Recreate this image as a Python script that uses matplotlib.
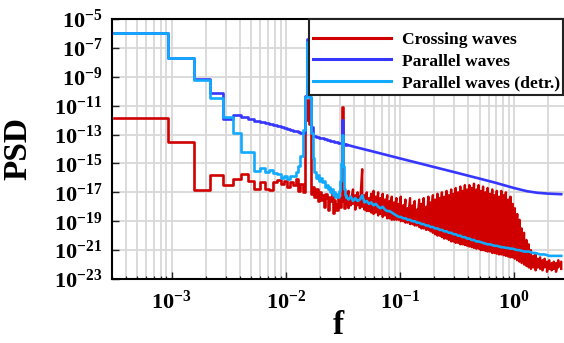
import numpy as np
import matplotlib
matplotlib.use("Agg")
import matplotlib.pyplot as plt
from matplotlib.ticker import LogLocator, NullFormatter

plt.rcParams["font.family"] = ["Liberation Serif", "DejaVu Serif"]
plt.rcParams["font.weight"] = "bold"
plt.rcParams["mathtext.fontset"] = "custom"
plt.rcParams["mathtext.rm"] = "Liberation Serif:bold"
plt.rcParams["mathtext.it"] = "Liberation Serif:bold"
plt.rcParams["mathtext.bf"] = "Liberation Serif:bold"

# Spectra, values stored as log10(PSD)
# low-frequency FFT bins (resolution df), drawn as histogram steps
df = 1.0 / 1600
bin_edges = np.arange(0.5, 55.5) * df

red_low = [-11.88, -13.5, -16.84, -15.82, -16.5, -16.08, -15.73, -16.2, -16.8, -16.27,
           -16.8, -16.85, -16.27, -16.15, -16.4, -16.2, -16.6, -16.3, -16.5, -16.05,
           -16.9, -16.4, -17.0, -12.0, -10.6, -12.3, -17.1, -16.6, -17.3, -16.8,
           -17.6, -17.0, -17.5, -17.2, -18.0, -17.1, -17.4, -18.2, -17.3, -17.6,
           -16.9, -18.4, -17.5, -17.8, -18.2, -17.3, -17.9, -18.0, -17.4, -11.1,
           -17.6, -18.1, -17.0, -17.8]

blue_low = [-6.0, -7.72, -9.18, -10.15, -11.93, -11.65, -11.79, -11.92, -12.03, -12.13,
            -12.22, -12.30, -12.37, -12.44, -12.51, -12.57, -12.62, -12.68, -12.73, -12.77,
            -12.82, -12.86, -12.90, -10.3, -6.4, -10.4, -12.5, -13.09, -13.12, -13.15,
            -13.18, -13.21, -13.24, -13.27, -13.30, -13.32, -13.35, -13.37, -13.40, -13.42,
            -13.44, -13.47, -13.49, -13.51, -13.53, -13.55, -13.57, -13.59, -13.61, -12.0,
            -13.65, -13.67, -13.68, -13.70]

cyan_low = [-6.0, -7.72, -9.22, -10.49, -11.8, -12.87, -14.2, -14.2, -15.5, -15.34,
            -15.57, -15.45, -15.67, -15.7, -16.03, -15.9, -16.1, -15.9, -15.9, -15.6,
            -15.2, -14.5, -12.7, -10.4, -6.6, -10.4, -12.9, -14.6, -15.6, -16.0,
            -15.8, -16.2, -16.0, -16.3, -16.2, -16.6, -16.5, -16.8, -16.6, -17.0,
            -16.8, -17.2, -17.0, -17.3, -17.1, -17.3, -16.9, -16.2, -15.0, -13.0,
            -15.2, -16.8, -17.2, -17.3]

# high-frequency part
hf_f = [0.0339, 0.0355, 0.0372, 0.0389, 0.0407, 0.0427, 0.0447, 0.0468, 0.0490, 0.0513,
        0.0537, 0.0562, 0.0589, 0.0617, 0.0646, 0.0676, 0.0708, 0.0741, 0.0776, 0.0813,
        0.0851, 0.0891, 0.0933, 0.0977, 0.102, 0.107, 0.112, 0.117, 0.123, 0.129,
        0.135, 0.141, 0.148, 0.155, 0.162, 0.170, 0.178, 0.186, 0.195, 0.204,
        0.214, 0.224, 0.234, 0.245, 0.257, 0.269, 0.282, 0.295, 0.309, 0.324,
        0.339, 0.355, 0.372, 0.389, 0.407, 0.427, 0.447, 0.468, 0.490, 0.513,
        0.537, 0.562, 0.589, 0.617, 0.646, 0.676, 0.708, 0.741, 0.776, 0.813,
        0.851, 0.891, 0.933, 0.977, 1.02, 1.07, 1.12, 1.17, 1.23, 1.29,
        1.35, 1.41, 1.48, 1.55, 1.62, 1.70, 1.78, 1.86, 1.95, 2.04,
        2.14, 2.24, 2.34, 2.45, 2.60]

# crossing waves: upper and lower excursions of the noisy spectrum
red_hi = [-17.0, -16.9, -17.3, -16.8, -17.2, -17.0, -17.3, -15.4, -17.2, -17.0,
          -17.4, -17.1, -16.9, -17.3, -17.0, -17.4, -17.1, -17.5, -17.2, -17.6,
          -17.3, -17.7, -17.4, -17.8, -17.3, -17.9, -17.5, -18.1, -17.4, -17.9,
          -17.6, -18.2, -17.5, -17.8, -17.4, -18.0, -17.3, -17.7, -17.2, -17.5,
          -17.1, -17.4, -17.0, -17.3, -16.9, -17.2, -16.8, -17.1, -16.7, -17.0,
          -16.6, -16.9, -16.5, -16.8, -16.5, -16.7, -16.4, -16.8, -16.5, -16.9,
          -16.6, -17.0, -16.7, -17.1, -16.8, -17.2, -16.9, -17.3, -16.9, -17.2,
          -17.0, -17.5, -17.3, -17.8, -18.1, -18.5, -18.9, -19.5, -19.8, -20.3,
          -20.6, -21.0, -21.4, -21.3, -21.6, -21.5, -21.7, -21.6, -21.8, -21.7,
          -21.9, -21.8, -21.9, -21.7, -21.8]
red_lo = [-17.9, -18.1, -17.9, -17.8, -18.2, -17.9, -18.1, -18.0, -18.2, -18.3,
          -18.3, -18.4, -18.5, -18.4, -18.6, -18.5, -18.7, -18.6, -18.8, -18.8,
          -18.9, -18.9, -18.9, -18.9, -19.0, -19.0, -19.1, -19.1, -19.2, -19.2,
          -19.3, -19.3, -19.4, -19.5, -19.5, -19.6, -19.6, -19.7, -19.8, -19.9,
          -20.0, -20.0, -20.1, -20.2, -20.2, -20.3, -20.4, -20.4, -20.5, -20.5,
          -20.6, -20.6, -20.65, -20.7, -20.75, -20.8, -20.85, -20.9, -20.9, -21.0,
          -21.0, -21.05, -21.1, -21.1, -21.2, -21.2, -21.25, -21.3, -21.3, -21.35,
          -21.4, -21.45, -21.5, -21.5, -21.6, -21.7, -21.8, -21.9, -22.0, -22.1,
          -22.2, -22.3, -22.2, -22.4, -22.2, -22.3, -22.4, -22.2, -22.5, -22.3,
          -22.4, -22.3, -22.5, -22.2, -22.3]

cyan_hf = [-17.3, -17.5, -17.3, -17.6, -17.4, -17.6, -17.5, -17.2, -17.7, -17.6,
           -17.8, -17.7, -17.9, -17.8, -18.0, -18.1, -18.0, -18.2, -18.3, -18.3,
           -18.4, -18.5, -18.6, -18.7, -18.7, -18.8, -18.8, -18.9, -18.9, -19.0,
           -19.0, -19.1, -19.1, -19.2, -19.2, -19.3, -19.3, -19.4, -19.4, -19.5,
           -19.5, -19.6, -19.6, -19.7, -19.7, -19.8, -19.8, -19.9, -19.9, -20.0,
           -20.0, -20.1, -20.1, -20.2, -20.2, -20.3, -20.3, -20.4, -20.4, -20.45,
           -20.5, -20.55, -20.6, -20.6, -20.65, -20.7, -20.7, -20.75, -20.8, -20.8,
           -20.85, -20.85, -20.9, -20.9, -20.95, -21.0, -21.0, -21.05, -21.1, -21.1,
           -21.1, -21.15, -21.2, -21.2, -21.25, -21.3, -21.3, -21.3, -21.35, -21.4,
           -21.4, -21.4, -21.4, -21.4, -21.4]

blue_hf_f = [0.04, 0.06, 0.1, 0.15, 0.2, 0.3, 0.5, 0.7, 1.0, 1.3, 1.6, 2.0, 2.6]
blue_hf = [-13.85, -14.2, -14.65, -15.0, -15.25, -15.6, -16.05, -16.35, -16.7,
           -16.92, -17.03, -17.09, -17.13]

labels = ["Crossing waves", "Parallel waves", "Parallel waves (detr.)"]
c_red, c_blue, c_cyan = "#d00000", "#3636ff", "#11aaff"
lw = 1.9

fig = plt.figure(figsize=(5.64, 3.43), dpi=100)
ax = fig.add_axes([112 / 564, 64 / 343, 452 / 564, 260 / 343])


def hist_steps(vals, color, label, z):
    # histogram-style steps over the FFT bins
    v = np.append(vals, vals[-1])
    ax.step(bin_edges, 10.0 ** v, where="post", color=color, lw=lw, label=label, zorder=z)


# crossing waves
hist_steps(red_low, c_red, labels[0], 3)
red_x = np.concatenate([[bin_edges[-1]], np.repeat(hf_f, 2)])
red_y = np.concatenate([[red_low[-1]], np.column_stack([red_hi, red_lo]).ravel()])
ax.plot(red_x, 10.0 ** red_y, color=c_red, lw=lw * 0.9, zorder=3)

# parallel waves
hist_steps(blue_low, c_blue, labels[1], 4)
ax.plot(np.concatenate([[bin_edges[-1]], blue_hf_f]),
        10.0 ** np.concatenate([[blue_low[-1]], blue_hf]), color=c_blue, lw=lw, zorder=4)

# parallel waves, detrended
hist_steps(cyan_low, c_cyan, labels[2], 5)
ax.plot(np.concatenate([[bin_edges[-1]], hf_f]),
        10.0 ** np.concatenate([[cyan_low[-1]], cyan_hf]), color=c_cyan, lw=lw, zorder=5)

ax.set_xscale("log")
ax.set_yscale("log")
ax.set_xlim(3.0e-4, 2.75)
ax.set_ylim(1e-23, 1e-5)

xt = [1e-3, 1e-2, 1e-1, 1e0]
ax.set_xticks(xt)
ax.set_xticklabels([r"$10^{%d}$" % e for e in [-3, -2, -1, 0]])
ax.xaxis.set_minor_locator(LogLocator(base=10, subs=np.arange(2, 10), numticks=20))
ax.xaxis.set_minor_formatter(NullFormatter())

yexp = np.arange(-23, -4, 2)
ax.set_yticks(10.0 ** yexp)
ax.set_yticklabels([r"$10^{%d}$" % e for e in yexp])
ax.yaxis.set_minor_locator(plt.NullLocator())

ax.tick_params(which="both", direction="in", top=False, right=False, labelsize=16,
               color="#222222")
ax.tick_params(which="major", length=5, width=1.0)
ax.tick_params(which="minor", length=2.5, width=0.9)
ax.tick_params(axis="x", which="major", pad=8)
ax.tick_params(axis="y", which="major", pad=7)

ax.grid(axis="x", which="both", color="#d8d8d8", lw=1.3, zorder=0)
ax.grid(axis="y", which="major", color="#d8d8d8", lw=1.3, zorder=0)
ax.set_axisbelow(True)

for s in ["left", "bottom", "top"]:
    ax.spines[s].set_linewidth(1.5)
ax.spines["right"].set_visible(False)

ax.set_ylabel("PSD", fontsize=24, fontweight="bold")
ax.yaxis.set_label_coords(-0.173, 0.5)
ax.set_xlabel("f", fontsize=24, fontweight="bold")
ax.xaxis.set_label_coords(0.5, -0.12)

leg = ax.legend(loc="upper left", bbox_to_anchor=(309 / 564, 1 - 19 / 343),
                bbox_transform=fig.transFigure, borderaxespad=0, fancybox=False,
                framealpha=1, edgecolor="#222222", fontsize=12.6, handlelength=4.5,
                handletextpad=0.6, labelspacing=0.3, borderpad=0.2,
                title=" ", title_fontsize=3)
leg.get_frame().set_linewidth(1.5)
for line in leg.get_lines():
    line.set_linewidth(2.2)

fig.savefig("out.png", dpi=100)
